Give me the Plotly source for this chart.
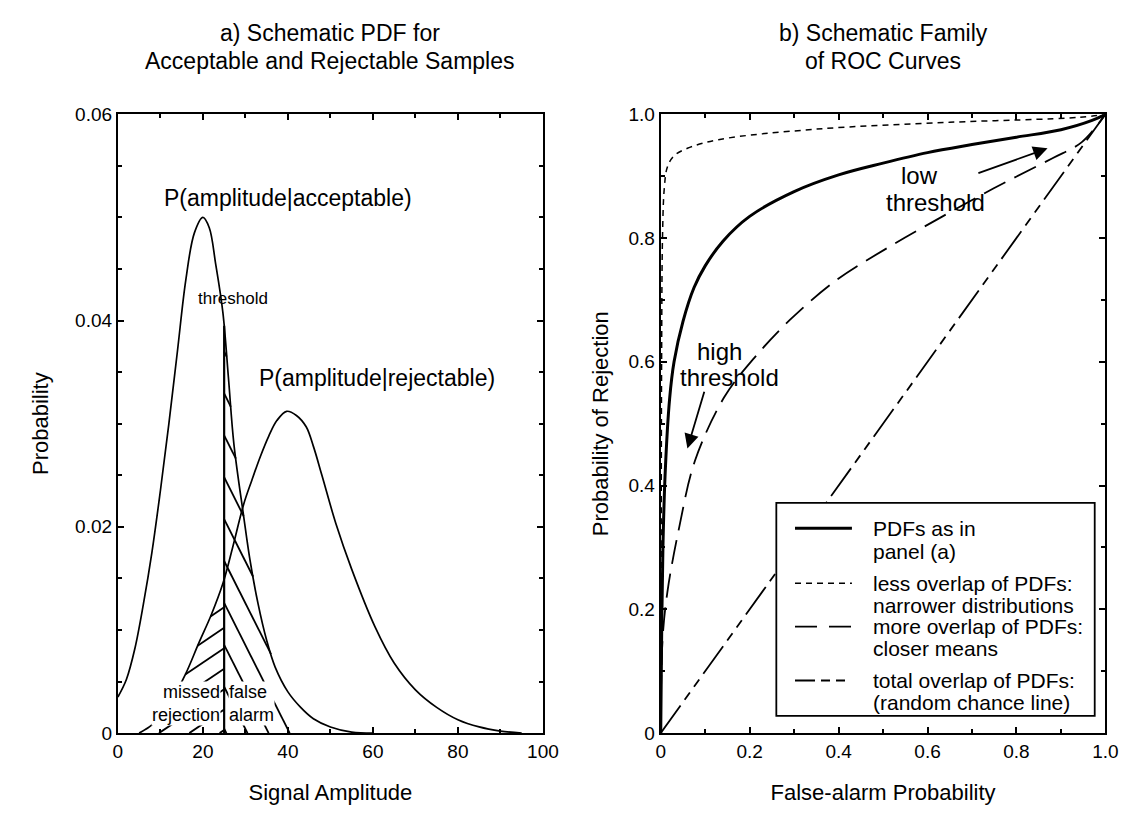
import numpy as np
import plotly.graph_objects as go

# ---- panel (a): schematic PDFs -------------------------------------------
amp_acc = [0, 2, 4, 6, 8, 10, 12, 14, 16, 18, 20, 21.5, 23, 24.7, 26, 27.3, 29.6,
           31, 33, 35, 37, 40, 43, 46, 50, 55, 60]
pdf_acc = [0.0035, 0.0052, 0.0082, 0.0125, 0.0175, 0.0235, 0.0300, 0.0370, 0.0440,
           0.0485, 0.0500, 0.0490, 0.0455, 0.0408, 0.0345, 0.0280, 0.0210, 0.0170,
           0.0125, 0.0090, 0.0064, 0.0040, 0.0025, 0.0014, 0.0006, 0.0001, 0.0]

amp_rej = [5, 8, 10, 13, 16, 19, 22, 24.7, 27, 29.6, 31.5, 33.5, 35.5, 37.4, 39.7,
           42, 44.3, 46, 48, 51.3, 55, 60.5, 65, 70, 75, 80, 85, 90, 95]
pdf_rej = [0.0, 0.0008, 0.0018, 0.0035, 0.0058, 0.0087, 0.0115, 0.0145, 0.0180,
           0.0222, 0.0245, 0.0268, 0.0288, 0.0303, 0.0312, 0.0308, 0.0297, 0.0278,
           0.0250, 0.0203, 0.0159, 0.0103, 0.0068, 0.0042, 0.0025, 0.0013, 0.0006,
           0.0002, 0.0]

threshold = 25.0
threshold_top = 0.0395

amp_ticks = [0, 20, 40, 60, 80, 100]
amp_ticktext = ["0", "20", "40", "60", "80", "100"]
prob_ticks = [0, 0.02, 0.04, 0.06]
prob_ticktext = ["0", "0.02", "0.04", "0.06"]

# ---- panel (b): ROC curves ------------------------------------------------
fa_base = [0, 0.002, 0.005, 0.01, 0.02, 0.03, 0.05, 0.075, 0.1, 0.14, 0.2, 0.3,
           0.4, 0.5, 0.6, 0.7, 0.8, 0.9, 0.97, 1.0]
rej_base = [0, 0.15, 0.30, 0.42, 0.54, 0.60, 0.665, 0.72, 0.755, 0.795, 0.835,
            0.875, 0.902, 0.921, 0.938, 0.951, 0.963, 0.975, 0.99, 1.0]

fa_narrow = [0, 0.001, 0.002, 0.004, 0.008, 0.015, 0.03, 0.06, 0.13, 0.35, 0.65,
             0.94, 1.0]
rej_narrow = [0, 0.30, 0.60, 0.80, 0.88, 0.915, 0.933, 0.945, 0.959, 0.976, 0.987,
              0.995, 1.0]

fa_close = [0, 0.004, 0.015, 0.042, 0.077, 0.143, 0.21, 0.291, 0.395, 0.512,
            0.629, 0.748, 0.881, 0.947, 1.0]
rej_close = [0, 0.15, 0.228, 0.334, 0.44, 0.543, 0.606, 0.668, 0.732, 0.785,
             0.833, 0.880, 0.929, 0.955, 1.0]

fa_chance = [0, 1.0]
rej_chance = [0, 1.0]

roc_ticks = [0, 0.2, 0.4, 0.6, 0.8, 1.0]
roc_ticktext = ["0", "0.2", "0.4", "0.6", "0.8", "1.0"]

roc_names = [["PDFs as in", "panel (a)"],
             ["less overlap of PDFs:", "narrower distributions"],
             ["more overlap of PDFs:", "closer means"],
             ["total overlap of PDFs:", "(random chance line)"]]

panel_titles = [["a) Schematic PDF for", "Acceptable and Rejectable Samples"],
                ["b) Schematic Family", "of ROC Curves"]]

# ---- styling --------------------------------------------------------------
FONT = "Liberation Sans, Arial, Helvetica, sans-serif"
BLACK = "black"
W, H = 1142, 825
PLOT_L, PLOT_R = 115, 548
PLOT2_L, PLOT2_R = 668, 1121
PLOT_T, PLOT_B = 107, 742
TITLE_ROWS_PX = [24, 52]
PX_PER_AMP = (PLOT_R - PLOT_L) / 100.0
PX_PER_PROB = (PLOT_B - PLOT_T) / 0.06
FA_SPACING_PX, FA_SLOPE_PX = 43, -2.0     # "\" strokes in false-alarm area
MR_SPACING_PX, MR_SLOPE_PX = 21, 0.68     # "/" strokes in missed-rejection area

roc_styles = [dict(color=BLACK, width=3),
              dict(color=BLACK, width=1.5, dash="6px,5px"),
              dict(color=BLACK, width=1.8, dash="24px,10px"),
              dict(color=BLACK, width=1.8, dash="34px,7px,9px,7px,9px,7px")]
legend_styles = [dict(color=BLACK, width=3),
                 dict(color=BLACK, width=1.5, dash="6px,5px"),
                 dict(color=BLACK, width=1.8, dash="22px,12px"),
                 dict(color=BLACK, width=1.8, dash="20px,6px,9px,6px,9px")]


def px_x(p):
    return p / W


def px_y(p):
    return 1 - p / H


def hatch_lines(xc, yc, x0, y_top, spacing_px, slope_px, to_right):
    """Strokes starting on x = x0 running until they meet the curve (xc, yc)."""
    slope = slope_px * PX_PER_AMP / PX_PER_PROB
    step = spacing_px / PX_PER_PROB
    levels = np.arange(y_top, 0, -step)
    order = np.argsort(xc)
    xc, yc = np.asarray(xc)[order], np.asarray(yc)[order]
    xg = np.linspace(x0, xc.max() if to_right else xc.min(), 4000)
    cg = np.interp(xg, xc, yc)
    xs, ys = [], []
    for lv in levels:
        lg = lv + slope * (xg - x0)
        hit = np.where((lg >= cg) | (lg <= 0))[0]
        i = hit[0] if len(hit) else len(xg) - 1
        xs += [x0, xg[i], None]
        ys += [lv, max(min(lg[i], cg[i]), 0), None]
    return xs, ys


fig = go.Figure()

line_a = dict(color=BLACK, width=1.7)
fig.add_trace(go.Scatter(x=amp_acc, y=pdf_acc, mode="lines", line_shape="spline",
                         line=line_a, showlegend=False, xaxis="x", yaxis="y"))
fig.add_trace(go.Scatter(x=amp_rej, y=pdf_rej, mode="lines", line_shape="spline",
                         line=line_a, showlegend=False, xaxis="x", yaxis="y"))

# threshold marker
fig.add_trace(go.Scatter(x=[threshold, threshold], y=[0, threshold_top], mode="lines",
                         line=dict(color=BLACK, width=2.2), showlegend=False,
                         xaxis="x", yaxis="y"))

# false alarm hatch: acceptable PDF right of the threshold
acc_r = [(a, p) for a, p in zip(amp_acc, pdf_acc) if a >= threshold - 1]
hx, hy = hatch_lines([a for a, _ in acc_r], [p for _, p in acc_r], threshold,
                     0.0370, FA_SPACING_PX, FA_SLOPE_PX, True)
fig.add_trace(go.Scatter(x=hx, y=hy, mode="lines", line=dict(color=BLACK, width=1.8),
                         showlegend=False, xaxis="x", yaxis="y"))

# missed rejection hatch: rejectable PDF left of the threshold
rej_l = [(a, p) for a, p in zip(amp_rej, pdf_rej) if a <= threshold + 1]
mx, my = hatch_lines([a for a, _ in rej_l], [p for _, p in rej_l], threshold,
                     0.0122, MR_SPACING_PX, MR_SLOPE_PX, False)
fig.add_trace(go.Scatter(x=mx, y=my, mode="lines", line=dict(color=BLACK, width=1.8),
                         showlegend=False, xaxis="x", yaxis="y"))

# ROC family
roc_data = [(fa_base, rej_base, "spline"), (fa_narrow, rej_narrow, "spline"),
            (fa_close, rej_close, "spline"), (fa_chance, rej_chance, "linear")]
for (fx, ry, shp), nm, st in zip(roc_data, roc_names, roc_styles):
    fig.add_trace(go.Scatter(x=fx, y=ry, mode="lines", line_shape=shp,
                             name=" ".join(nm), line=st, showlegend=False,
                             xaxis="x2", yaxis="y2"))

# legend box drawn in the ROC axes
LEG_X0, LEG_X1, LEG_Y0, LEG_Y1 = 0.26, 0.976, 0.028, 0.372
LEG_SYM0, LEG_SYM1, LEG_TXT = 0.302, 0.430, 0.474
LEG_ROW_Y = [0.331, 0.294, 0.242, 0.207, 0.172, 0.137, 0.085, 0.050]
shapes = [dict(type="rect", xref="x2", yref="y2", x0=LEG_X0, x1=LEG_X1,
               y0=LEG_Y0, y1=LEG_Y1, fillcolor="white",
               line=dict(color=BLACK, width=1.8), layer="above")]
annotations = []
for k, (nm, st) in enumerate(zip(roc_names, legend_styles)):
    y_first = LEG_ROW_Y[2 * k]
    shapes.append(dict(type="line", xref="x2", yref="y2", x0=LEG_SYM0, x1=LEG_SYM1,
                       y0=y_first, y1=y_first, line=st, layer="above"))
    for j, txt in enumerate(nm):
        annotations.append(dict(text=txt, x=LEG_TXT, y=LEG_ROW_Y[2 * k + j],
                                xref="x2", yref="y2", showarrow=False,
                                xanchor="left", yanchor="middle",
                                font=dict(family=FONT, size=21, color=BLACK)))

axis_common = dict(showline=True, linecolor=BLACK, linewidth=2, mirror="ticks",
                   ticks="inside", ticklen=6, tickwidth=1.5, tickcolor=BLACK,
                   showgrid=False, zeroline=False,
                   tickfont=dict(family=FONT, size=19, color=BLACK))

title_font = dict(family=FONT, size=23, color=BLACK)
axis_title_font = dict(family=FONT, size=22, color=BLACK)
for (cx_l, cx_r), rows in zip([(PLOT_L, PLOT_R), (PLOT2_L, PLOT2_R)], panel_titles):
    for row_px, txt in zip(TITLE_ROWS_PX, rows):
        annotations.append(dict(text=txt, x=px_x((cx_l + cx_r) / 2), y=px_y(row_px),
                                xref="paper", yref="paper", xanchor="center",
                                yanchor="middle", showarrow=False, font=title_font))

annotations += [
    dict(text="P(amplitude|acceptable)", x=40, y=0.0519, xref="x", yref="y",
         showarrow=False, font=dict(family=FONT, size=23, color=BLACK)),
    dict(text="P(amplitude|rejectable)", x=61, y=0.0344, xref="x", yref="y",
         showarrow=False, font=dict(family=FONT, size=23, color=BLACK)),
    dict(text="threshold", x=27, y=0.0421, xref="x", yref="y", showarrow=False,
         font=dict(family=FONT, size=17, color=BLACK)),
    dict(text="missed<br>rejection", x=24.3, y=0.0029, xref="x", yref="y",
         showarrow=False, xanchor="right", align="right", bgcolor="white",
         borderpad=0, font=dict(family=FONT, size=18, color=BLACK)),
    dict(text="false<br>alarm", x=25.8, y=0.0029, xref="x", yref="y",
         showarrow=False, xanchor="left", align="left", bgcolor="white",
         borderpad=0, font=dict(family=FONT, size=18, color=BLACK)),
    dict(text="low", x=0.583, y=0.901, xref="x2", yref="y2", showarrow=False,
         font=dict(family=FONT, size=24, color=BLACK)),
    dict(text="threshold", x=0.618, y=0.857, xref="x2", yref="y2", showarrow=False,
         font=dict(family=FONT, size=24, color=BLACK)),
    dict(text="high", x=0.132, y=0.617, xref="x2", yref="y2", showarrow=False,
         font=dict(family=FONT, size=24, color=BLACK)),
    dict(text="threshold", x=0.155, y=0.575, xref="x2", yref="y2", showarrow=False,
         font=dict(family=FONT, size=24, color=BLACK)),
    dict(text="", x=0.870, y=0.945, ax=0.711, ay=0.904, xref="x2", yref="y2",
         axref="x2", ayref="y2", showarrow=True, arrowhead=2, arrowsize=1.6,
         arrowwidth=1.8, arrowcolor=BLACK),
    dict(text="", x=0.060, y=0.46, ax=0.099, ay=0.554, xref="x2", yref="y2",
         axref="x2", ayref="y2", showarrow=True, arrowhead=2, arrowsize=1.6,
         arrowwidth=1.8, arrowcolor=BLACK),
]

fig.update_layout(
    width=W, height=H,
    margin=dict(l=0, r=0, t=0, b=0),
    paper_bgcolor="white", plot_bgcolor="white",
    font=dict(family=FONT, color=BLACK),
    showlegend=False,
    xaxis=dict(axis_common, domain=[px_x(PLOT_L), px_x(PLOT_R)], range=[0, 100],
               tickvals=amp_ticks, ticktext=amp_ticktext,
               minor=dict(dtick=10, ticks="inside", ticklen=4, tickcolor=BLACK),
               title=dict(text="Signal Amplitude", standoff=24,
                          font=axis_title_font)),
    yaxis=dict(axis_common, domain=[px_y(PLOT_B), px_y(PLOT_T)], range=[0, 0.06],
               tickvals=prob_ticks, ticktext=prob_ticktext,
               minor=dict(dtick=0.005, ticks="inside", ticklen=4, tickcolor=BLACK),
               title=dict(text="Probability", standoff=20, font=axis_title_font)),
    xaxis2=dict(axis_common, domain=[px_x(PLOT2_L), px_x(PLOT2_R)], range=[0, 1],
                tickvals=roc_ticks, ticktext=roc_ticktext, anchor="y2",
                minor=dict(dtick=0.1, ticks="inside", ticklen=4, tickcolor=BLACK),
                title=dict(text="False-alarm Probability", standoff=24,
                           font=axis_title_font)),
    yaxis2=dict(axis_common, domain=[px_y(PLOT_B), px_y(PLOT_T)], range=[0, 1],
                tickvals=roc_ticks, ticktext=roc_ticktext, anchor="x2",
                minor=dict(dtick=0.1, ticks="inside", ticklen=4, tickcolor=BLACK),
                title=dict(text="Probability of Rejection", standoff=14,
                           font=axis_title_font)),
    shapes=shapes,
    annotations=annotations,
)

fig.write_html("out.html")
